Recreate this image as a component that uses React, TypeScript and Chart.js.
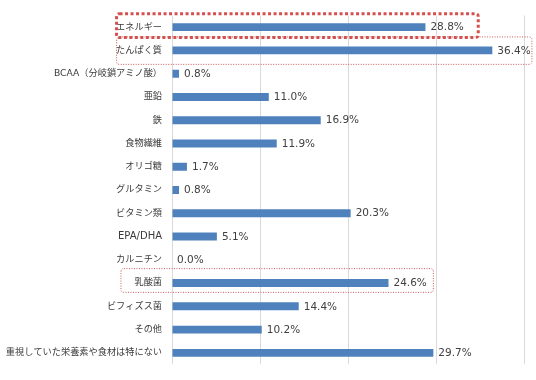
import React, { useEffect, useRef } from "react";
import { Chart, registerables } from "chart.js";

Chart.register(...registerables);

const categories = [
  "エネルギー",
  "たんぱく質",
  "BCAA（分岐鎖アミノ酸）",
  "亜鉛",
  "鉄",
  "食物繊維",
  "オリゴ糖",
  "グルタミン",
  "ビタミン類",
  "EPA/DHA",
  "カルニチン",
  "乳酸菌",
  "ビフィズス菌",
  "その他",
  "重視していた栄養素や食材は特にない",
];
const values = [28.8, 36.4, 0.8, 11.0, 16.9, 11.9, 1.7, 0.8, 20.3, 5.1, 0.0, 24.6, 14.4, 10.2, 29.7];
const xTicks = [0, 10, 20, 30, 40];

// highlighted boxes: [category index, x start (value units), x end (value units), thick?]
const boxIndex = [0, 1, 11];
const boxStart = [-6.3, -6.3, -5.8];
const boxEnd = [34.8, 40.9, 29.7];
const boxThick = [true, false, false];

const labelPlugin = {
  id: "valueLabels",
  afterDatasetsDraw(chart: any) {
    const { ctx } = chart;
    const meta = chart.getDatasetMeta(0);
    ctx.save();
    ctx.font = "10.5px 'DejaVu Sans'";
    ctx.fillStyle = "#404040";
    ctx.textAlign = "left";
    ctx.textBaseline = "middle";
    meta.data.forEach((bar: any, i: number) => {
      const v = values[i];
      ctx.fillText(v.toFixed(1) + "%", bar.x + 5, bar.y + 0.5);
    });
    ctx.restore();
  },
};

const boxPlugin = {
  id: "highlightBoxes",
  afterDraw(chart: any) {
    const { ctx } = chart;
    const xs = chart.scales.x;
    const ys = chart.scales.y;
    const step = ys.getPixelForValue(1) - ys.getPixelForValue(0);
    ctx.save();
    boxIndex.forEach((idx, k) => {
      const cy = ys.getPixelForValue(idx);
      const x1 = xs.getPixelForValue(boxStart[k]);
      const x2 = xs.getPixelForValue(boxEnd[k]);
      let y1: number, y2: number;
      if (boxThick[k]) {
        ctx.strokeStyle = "#d4504c";
        ctx.lineWidth = 3;
        ctx.setLineDash([3, 2.5]);
        y1 = cy - step * 0.58;
        y2 = cy + step * 0.45;
      } else {
        ctx.strokeStyle = "#c85a57";
        ctx.lineWidth = 1;
        ctx.setLineDash([1, 1.5]);
        y1 = cy - step * (idx === 1 ? 0.58 : 0.62);
        y2 = cy + step * (idx === 1 ? 0.6 : 0.4);
      }
      const r = 3;
      ctx.beginPath();
      ctx.moveTo(x1 + r, y1);
      ctx.lineTo(x2 - r, y1);
      ctx.quadraticCurveTo(x2, y1, x2, y1 + r);
      ctx.lineTo(x2, y2 - r);
      ctx.quadraticCurveTo(x2, y2, x2 - r, y2);
      ctx.lineTo(x1 + r, y2);
      ctx.quadraticCurveTo(x1, y2, x1, y2 - r);
      ctx.lineTo(x1, y1 + r);
      ctx.quadraticCurveTo(x1, y1, x1 + r, y1);
      ctx.closePath();
      ctx.stroke();
    });
    ctx.restore();
  },
};

export default function App() {
  const ref = useRef<HTMLCanvasElement | null>(null);
  useEffect(() => {
    if (!ref.current) return;
    const chart = new Chart(ref.current, {
      type: "bar",
      data: {
        labels: categories,
        datasets: [
          {
            data: values,
            backgroundColor: "#4F81BD",
            borderWidth: 0,
            categoryPercentage: 1,
            barPercentage: 0.34,
          },
        ],
      },
      options: {
        indexAxis: "y",
        animation: false,
        responsive: false,
        maintainAspectRatio: false,
        layout: { padding: { left: 0, right: 12, top: 10, bottom: 14 } },
        plugins: { legend: { display: false }, tooltip: { enabled: false } },
        scales: {
          x: {
            min: xTicks[0],
            max: xTicks[xTicks.length - 1],
            afterBuildTicks: (scale: any) => {
              scale.ticks = xTicks.map((v) => ({ value: v }));
            },
            ticks: { display: false },
            grid: { color: "#d9d9d9", lineWidth: 1, drawTicks: false },
            border: { display: false },
          },
          y: {
            afterFit: (scale: any) => {
              scale.width = 172;
            },
            grid: { display: false, drawTicks: false },
            border: { display: false },
            ticks: {
              padding: 10,
              color: "#3a3a3a",
              font: (c: any) => {
                const label = categories[c.index] || "";
                const latinOnly = /^[\x00-\x7F]+$/.test(label);
                return {
                  family: "'DejaVu Sans', 'Noto Sans CJK JP'",
                  size: latinOnly ? 10 : 9.2,
                };
              },
            },
          },
        },
      },
      plugins: [labelPlugin, boxPlugin],
    });
    return () => chart.destroy();
  }, []);
  return (
    <div style={{ position: "fixed", left: 0, top: 0, width: 536, height: 380, background: "#fff" }}>
      <canvas ref={ref} width={536} height={380} />
    </div>
  );
}
